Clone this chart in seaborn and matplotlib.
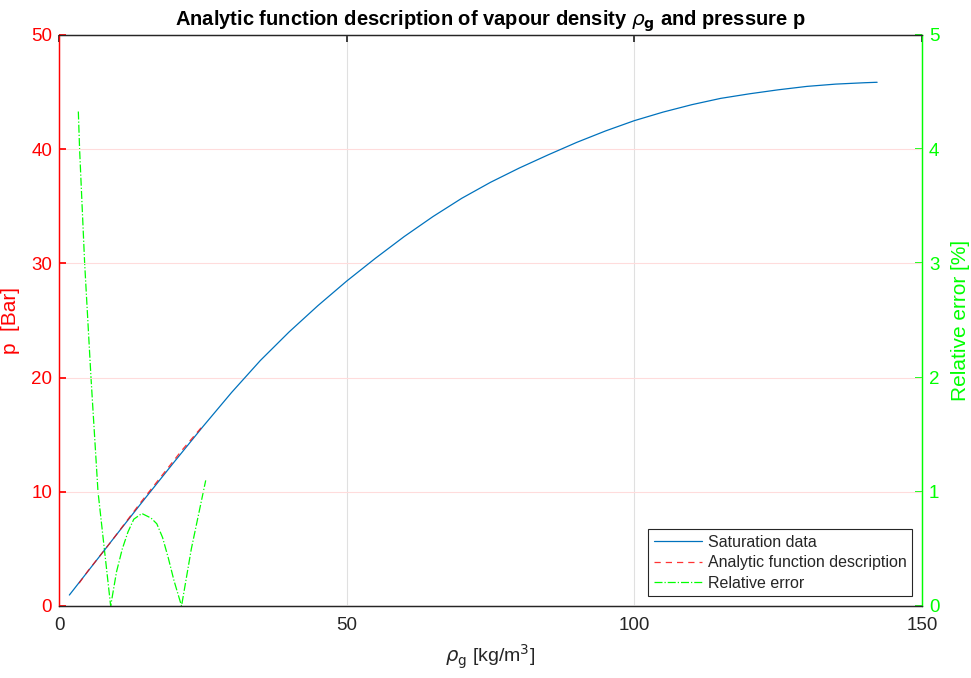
import seaborn as sns
import matplotlib.pyplot as plt
import pandas as pd

# saturation data (vapour density vs pressure)
rho_sat = [1.8, 5, 10, 15, 20, 25, 30, 35, 40, 45, 50, 55, 60, 65, 70, 75, 80, 85,
           90, 95, 100, 105, 110, 115, 120, 125, 130, 135, 140, 142.2]
p_sat = [0.96, 3.02, 6.25, 9.45, 12.6, 15.7, 18.7, 21.5, 24.0, 26.3, 28.45, 30.45, 32.35, 34.1,
         35.7, 37.1, 38.35, 39.5, 40.6, 41.6, 42.5, 43.25, 43.9, 44.45, 44.85, 45.2, 45.5, 45.7,
         45.82, 45.86]

# analytic fit
rho_fit = [3.5, 5, 9, 14.4, 21.3, 25.2]
p_fit = [2.0, 3.05, 5.6, 9.2, 13.6, 15.9]

# relative error [%]
rho_err = [3.36, 3.58, 4.46, 5.56, 6.78, 8.98, 10, 11, 12, 13, 14.4, 16, 17, 18, 19, 20, 21.3, 23, 25.5]
err = [4.33, 4.0, 3.0, 2.0, 1.0, 0.0, 0.3, 0.5, 0.65, 0.76, 0.81, 0.77, 0.72, 0.6, 0.42, 0.22, 0.0, 0.5, 1.1]

sat = pd.DataFrame({'rho': rho_sat, 'p': p_sat})
fit = pd.DataFrame({'rho': rho_fit, 'p': p_fit})
rel = pd.DataFrame({'rho': rho_err, 'err': err})

sns.set_theme(style="white")
plt.rcParams['font.family'] = ['Liberation Sans', 'DejaVu Sans']
plt.rcParams['mathtext.fontset'] = 'dejavusans'

fig = plt.figure(figsize=(9.71, 6.78), dpi=100)
ax = fig.add_axes([59/971, 1-606/678, 863/971, 571/678])
ax2 = ax.twinx()

red = '#FF0000'
green = '#00FF00'
blue = '#0072BD'

sns.lineplot(data=sat, x='rho', y='p', ax=ax, color=blue, lw=0.9, label='Saturation data')
sns.lineplot(data=fit, x='rho', y='p', ax=ax, color=red, lw=0.9, linestyle=(0, (5, 4)), alpha=0.8,
             label='Analytic function description')
sns.lineplot(data=rel, x='rho', y='err', ax=ax2, color=green, lw=0.9, linestyle='-.',
             label='Relative error')

ax.set_xlim(0, 150)
ax.set_ylim(0, 50)
ax2.set_ylim(0, 5)
ax.set_xticks([0, 50, 100, 150])
ax.set_yticks(range(0, 51, 10))
ax2.set_yticks(range(0, 6))

ax.grid(axis='x', color='#e0e0e0', lw=0.8)
ax.grid(axis='y', color='#ffdcdc', lw=0.8)

ax.tick_params(axis='x', direction='in', length=5, labelsize=13.5, colors='#262626', top=True, pad=8)
ax.tick_params(axis='y', direction='in', length=5, labelsize=13.5, colors=red, pad=5)
ax2.tick_params(axis='y', direction='in', length=5, labelsize=13.5, colors=green, pad=5)

for a in (ax, ax2):
    for s in a.spines.values():
        s.set_linewidth(0.9)
    a.spines['top'].set_color('#262626')
    a.spines['bottom'].set_color('#262626')
    a.spines['left'].set_color(red)
    a.spines['right'].set_color(green)

ax.set_xlabel(r'$\rho_{\rm g}$ [kg/m$^3$]', fontsize=14, color='#262626', labelpad=6)
ax.set_ylabel('p  [Bar]', fontsize=15, color=red, labelpad=8)
ax2.set_ylabel('Relative error [%]', fontsize=15, color=green, labelpad=8)
ax.set_title(r'Analytic function description of vapour density $\rho_{\mathbf{g}}$ and pressure p',
             fontsize=14.5, fontweight='bold', color='black', pad=7)

h1, l1 = ax.get_legend_handles_labels()
h2, l2 = ax2.get_legend_handles_labels()
if ax2.get_legend():
    ax2.get_legend().remove()
leg = ax.legend(h1 + h2, l1 + l2, loc='lower right', fontsize=11.5, fancybox=False,
                framealpha=1, edgecolor='#262626', borderaxespad=0.6, handlelength=3.0,
                borderpad=0.35, labelspacing=0.35, handletextpad=0.4)
leg.get_frame().set_linewidth(0.8)
ax.set_zorder(ax2.get_zorder() + 1)
ax.patch.set_visible(False)

fig.savefig('out.png', dpi=100)
